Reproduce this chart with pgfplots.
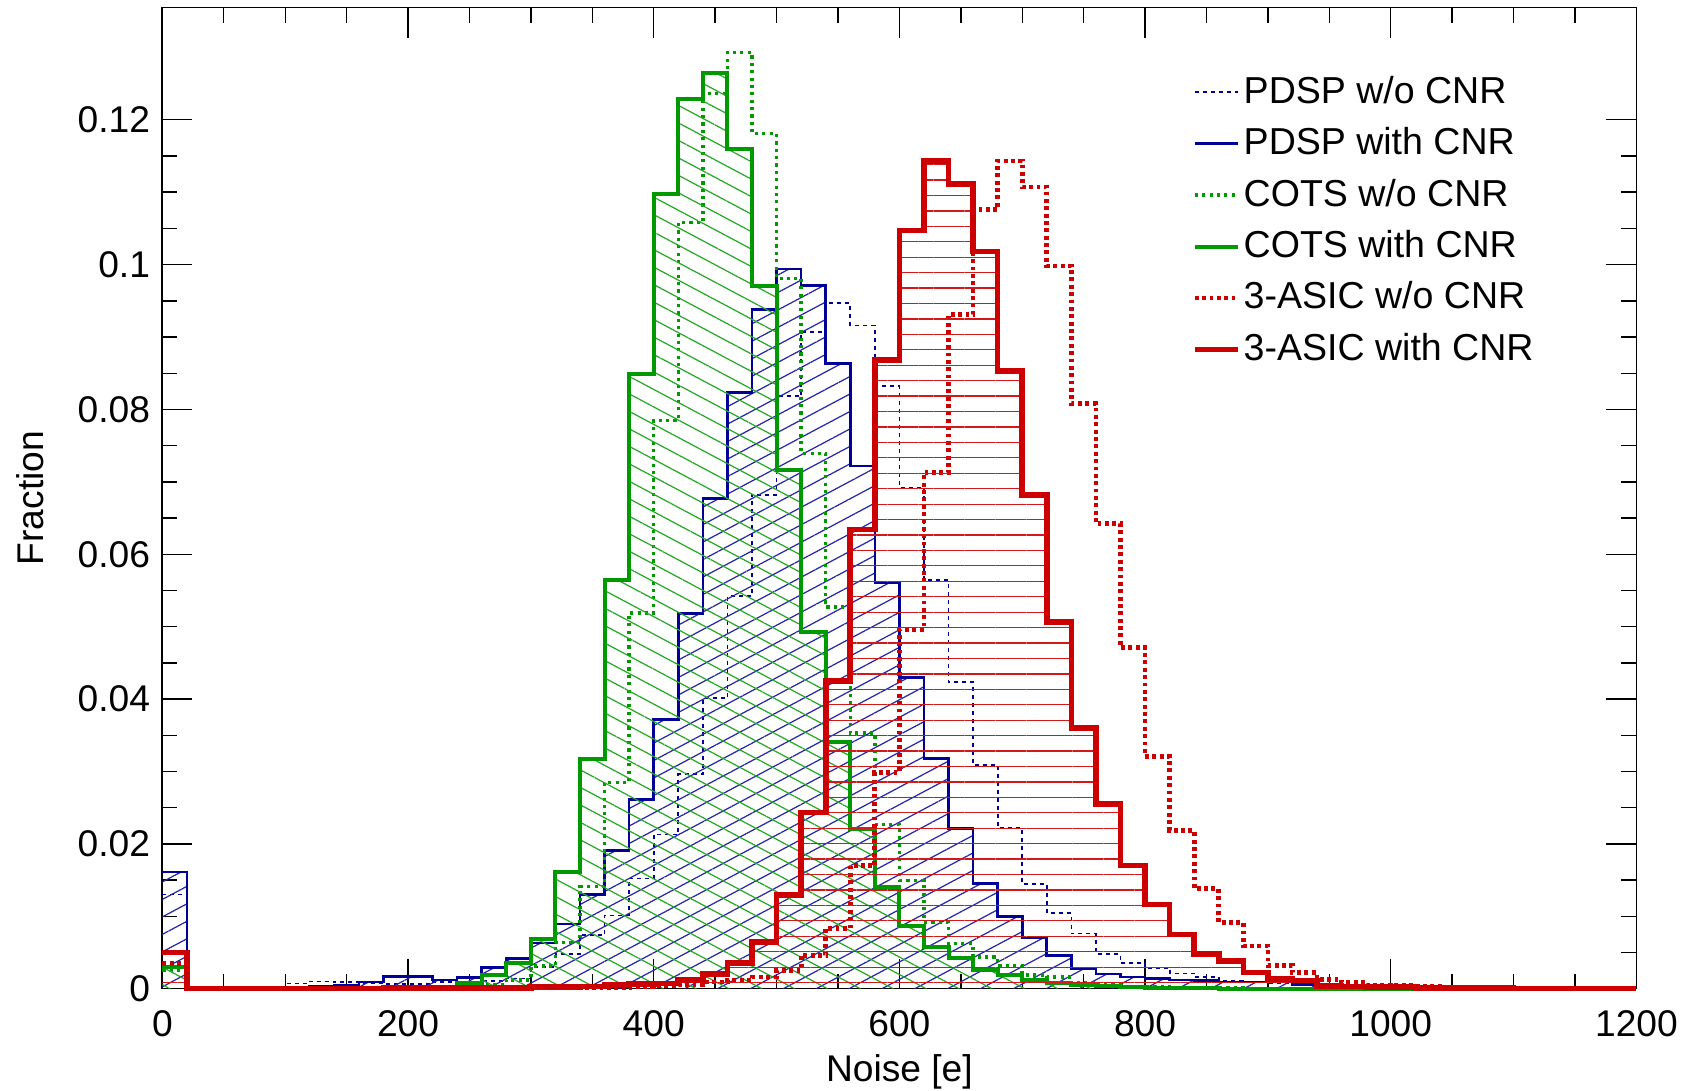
\documentclass[border=0pt]{standalone}
\usepackage{pgfplots}
\pgfplotsset{compat=1.18}
\usepackage{pgfplotstable}
\usepackage{fontspec}
\setmainfont{Liberation Sans}
\usetikzlibrary{patterns.meta}
\definecolor{pblue}{RGB}{0,0,153}
\definecolor{cgreen}{RGB}{0,153,0}
\definecolor{ared}{RGB}{204,0,0}

\pgfplotstableread{
x     bd      bs      gd      gs      rd      rs
0     0.0130  0.0161  0.0025  0.0030  0.0035  0.0050
20    0       0       0       0       0       0
40    0       0       0       0       0       0
60    0       0       0       0       0       0
80    0       0       0       0       0       0
100   0.0007  0.0002  0       0       0       0
120   0.0010  0.0003  0       0       0       0
140   0.0009  0.0005  0       0       0       0
160   0.0007  0.0009  0       0       0.0001  0
180   0.0006  0.0017  0       0       0.0001  0.0001
200   0.0006  0.0017  0       0       0.0001  0.0001
220   0.0009  0.0012  0       0.0001  0.0001  0.0001
240   0.0007  0.0015  0.0003  0.0008  0.0001  0.0001
260   0.0011  0.0029  0.0006  0.0019  0.0001  0.0001
280   0.0014  0.0042  0.0012  0.0036  0.0001  0.0001
300   0.0030  0.0063  0.0031  0.0068  0.0001  0.0002
320   0.0048  0.0089  0.0064  0.0161  0.0002  0.0002
340   0.0074  0.0130  0.0141  0.0317  0.0002  0.0003
360   0.0101  0.0191  0.0285  0.0564  0.0002  0.0005
380   0.0152  0.0261  0.0519  0.0849  0.0003  0.0006
400   0.0213  0.0372  0.0785  0.1098  0.0004  0.0007
420   0.0296  0.0518  0.1058  0.1229  0.0006  0.0012
440   0.0401  0.0677  0.1236  0.1264  0.0009  0.0020
460   0.0542  0.0823  0.1293  0.1159  0.0012  0.0035
480   0.0682  0.0938  0.1181  0.0971  0.0016  0.0064
500   0.0818  0.0994  0.0981  0.0716  0.0025  0.0129
520   0.0907  0.0971  0.0739  0.0492  0.0046  0.0243
540   0.0947  0.0863  0.0527  0.0341  0.0083  0.0425
560   0.0916  0.0722  0.0353  0.0221  0.0170  0.0634
580   0.0832  0.0560  0.0227  0.0141  0.0298  0.0868
600   0.0692  0.0430  0.0149  0.0086  0.0496  0.1047
620   0.0564  0.0318  0.0092  0.0058  0.0713  0.1143
640   0.0423  0.0221  0.0062  0.0042  0.0931  0.1111
660   0.0309  0.0145  0.0044  0.0026  0.1076  0.1018
680   0.0222  0.0100  0.0032  0.0019  0.1143  0.0853
700   0.0145  0.0070  0.0019  0.0012  0.1107  0.0682
720   0.0104  0.0046  0.0016  0.0008  0.0998  0.0506
740   0.0076  0.0028  0.0008  0.0005  0.0808  0.0360
760   0.0048  0.0020  0.0005  0.0003  0.0642  0.0255
780   0.0035  0.0016  0.0003  0.0002  0.0471  0.0170
800   0.0028  0.0014  0.0002  0.0001  0.0321  0.0116
820   0.0021  0.0012  0.0001  0.0001  0.0218  0.0075
840   0.0016  0.0011  0.0001  0.0001  0.0138  0.0048
860   0.0011  0.0009  0.0001  0       0.0091  0.0038
880   0.0010  0.0009  0       0       0.0059  0.0022
900   0.0008  0.0009  0       0       0.0032  0.0013
920   0.0006  0.0006  0       0       0.0022  0.0011
940   0.0005  0.0005  0       0       0.0013  0.0004
960   0.0004  0.0004  0       0       0.0009  0.0003
980   0.0004  0.0003  0       0       0.0005  0.0002
1000  0.0003  0.0003  0       0       0.0004  0.0002
1020  0.0003  0.0003  0       0       0.0003  0.0001
1040  0.0003  0.0003  0       0       0.0002  0.0001
1060  0.0002  0.0002  0       0       0.0002  0.0001
1080  0.0002  0.0002  0       0       0.0001  0.0001
1100  0.0001  0.0001  0       0       0.0001  0
1120  0.0001  0.0001  0       0       0.0001  0
1140  0.0001  0.0001  0       0       0       0
1160  0.0001  0       0       0       0       0
1180  0       0       0       0       0       0
1200  0       0       0       0       0       0
}\hist

\begin{document}
\begin{tikzpicture}
\begin{axis}[
  scale only axis,
  width=14.77cm, height=9.83cm,
  xmin=0, xmax=1200, ymin=0, ymax=0.1355,
  xtick={0,200,400,600,800,1000,1200},
  xticklabels={0,200,400,600,800,1000,1200},
  ytick={0,0.02,0.04,0.06,0.08,0.1,0.12},
  yticklabels={0,0.02,0.04,0.06,0.08,0.1,0.12},
  minor tick num=3,
  tick align=inside,
  major tick length=0.3cm,
  minor tick length=0.15cm,
  tick style={black, line width=0.4pt},
  axis line style={line width=0.5pt},
  clip=false,
  tick label style={font=\fontsize{10.6}{12}\selectfont},
  xticklabel style={yshift=-0.094cm},
  label style={font=\fontsize{10.6}{12}\selectfont},
  xlabel={Noise [e]}, ylabel={Fraction},
  xlabel style={at={(axis description cs:0.5,-0.085)}, anchor=center},
  ylabel style={at={(axis description cs:-0.090,0.5)}, anchor=center},
  legend image code/.code={\draw[#1] (0cm,0cm) -- (0.43cm,0cm);},
  legend style={draw=none, fill=none, at={(rel axis cs:0.698,0.938)}, anchor=north west,
    inner sep=0pt, row sep=1.4pt, column sep=-0.038cm,
    font=\fontsize{10.7}{12}\selectfont},
  legend cell align=left,
]
% PDSP w/o CNR
\addplot[const plot, pblue, line width=0.5pt, dash pattern=on 1.14pt off 1.14pt] table[x=x,y=bd]{\hist};
\addlegendentry{PDSP w/o CNR}
% PDSP with CNR
\addplot[const plot, draw=none, pattern={Lines[angle=28,distance=4.4pt,line width=0.35pt]}, pattern color=pblue!85, forget plot] table[x=x,y=bs]{\hist} \closedcycle;
\addplot[const plot, pblue, line width=0.75pt] table[x=x,y=bs]{\hist};
\addlegendentry{PDSP with CNR}
% COTS w/o CNR
\addplot[const plot, cgreen, line width=1.0pt, dash pattern=on 0.9pt off 1.2pt] table[x=x,y=gd]{\hist};
\addlegendentry{COTS w/o CNR}
% COTS with CNR
\addplot[const plot, draw=none, pattern={Lines[angle=-28,distance=4.4pt,line width=0.35pt]}, pattern color=cgreen!85, forget plot] table[x=x,y=gs]{\hist} \closedcycle;
\addplot[const plot, cgreen, line width=1.15pt] table[x=x,y=gs]{\hist};
\addlegendentry{COTS with CNR}
% 3-ASIC w/o CNR
\addplot[const plot, ared, line width=1.35pt, dash pattern=on 1.1pt off 1.0pt] table[x=x,y=rd]{\hist};
\addlegendentry{3-ASIC w/o CNR}
% 3-ASIC with CNR
\addplot[const plot, draw=none, pattern={Lines[angle=0,distance=4.4pt,line width=0.35pt]}, pattern color=ared!90, forget plot] table[x=x,y=rs]{\hist} \closedcycle;
\addplot[const plot, ared, line width=1.6pt] table[x=x,y=rs]{\hist};
\addlegendentry{3-ASIC with CNR}
\end{axis}
\pgfresetboundingbox
\path (-1.627cm,-1.022cm) rectangle (15.367cm,9.906cm);
\end{tikzpicture}
\end{document}
